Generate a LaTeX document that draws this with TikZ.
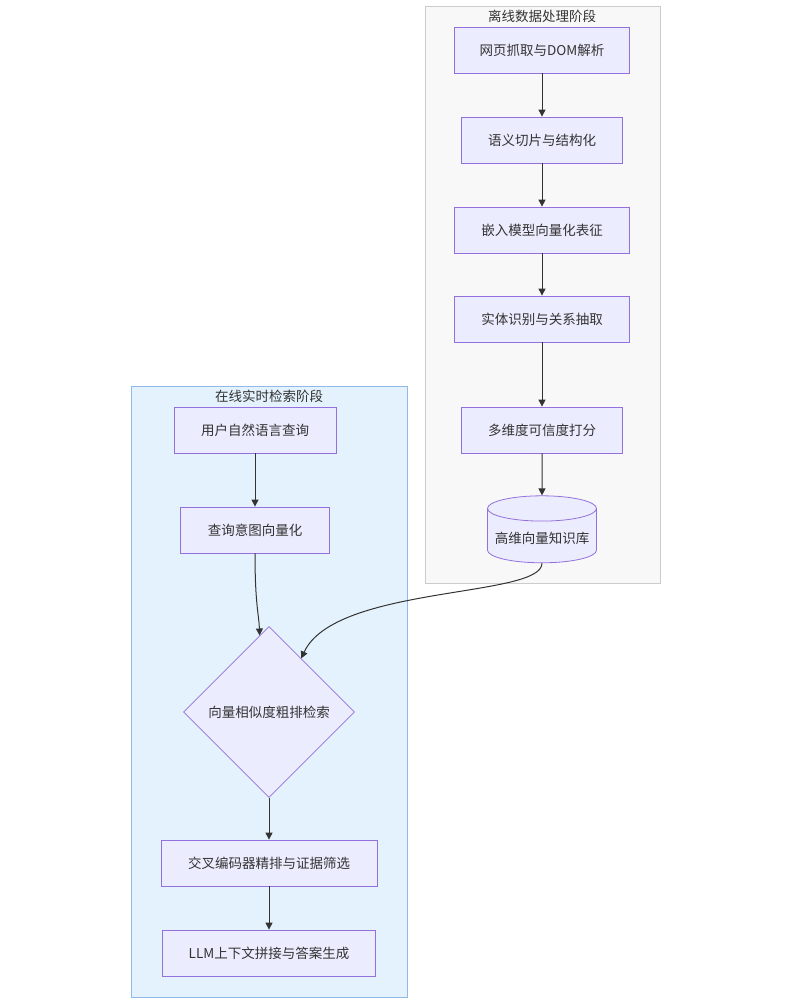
\documentclass[tikz,border=0pt]{standalone}
\usepackage{fontspec}
\setmainfont{Noto Sans CJK SC}
\usepackage{xcolor}
\usetikzlibrary{shapes.geometric, arrows.meta}

\definecolor{nodefill}{HTML}{ECECFF}
\definecolor{nodeline}{HTML}{9370DB}
\definecolor{edgegray}{HTML}{333333}
\definecolor{offfill}{HTML}{F8F8F8}
\definecolor{offline}{HTML}{CCCCCC}
\definecolor{onfill}{HTML}{E3F2FD}
\definecolor{online}{HTML}{90B8E8}

\begin{document}
\begin{tikzpicture}[x=1pt, y=-1pt,
        every node/.style={text=edgegray, font=\fontsize{13.5}{16}\selectfont},
        procbox/.style={draw=nodeline, fill=nodefill, line width=0.8pt, minimum height=46pt},
        flow/.style={draw=edgegray, line width=1pt, -{Triangle[length=7pt,width=7pt]}}]
        \useasboundingbox (0,0) rectangle (796,1003);

        % clusters
        \draw[fill=offfill, draw=offline, line width=0.8pt] (425,6) rectangle (660,583);
        \node (offtitle) at (542,16) {离线数据处理阶段};
        \draw[fill=onfill, draw=online, line width=0.8pt] (131,386) rectangle (407,997);
        \node (ontitle) at (269,396) {在线实时检索阶段};

        % offline nodes
        \node[procbox, minimum width=175pt] (crawl) at (542,50) {网页抓取与DOM解析};
        \node[procbox, minimum width=161pt] (chunk) at (542,140) {语义切片与结构化};
        \node[procbox, minimum width=175pt] (embed) at (542,230) {嵌入模型向量化表征};
        \node[procbox, minimum width=175pt] (ner) at (542,319) {实体识别与关系抽取};
        \node[procbox, minimum width=161pt] (score) at (542,430) {多维度可信度打分};
        \node[cylinder, shape border rotate=90, aspect=0.25, draw=nodeline, fill=nodefill,
              line width=0.8pt, minimum width=109pt, minimum height=67pt] (kb) at (542,538) {高维向量知识库};

        % online nodes
        \node[procbox, minimum width=162pt] (query) at (255,430) {用户自然语言查询};
        \node[procbox, minimum width=149pt] (qvec) at (255,530) {查询意图向量化};
        \node[diamond, draw=nodeline, fill=nodefill, line width=0.8pt, inner sep=0pt, aspect=1,
              minimum width=171pt, minimum height=171pt] (recall) at (269,712) {向量相似度粗排检索};
        \node[procbox, minimum width=216pt] (rerank) at (269,863) {交叉编码器精排与证据筛选};
        \node[procbox, minimum width=213pt] (gen) at (269,953) {LLM上下文拼接与答案生成};

        % offline chain
        \draw[flow] (crawl) -- (chunk);
        \draw[flow] (chunk) -- (embed);
        \draw[flow] (embed) -- (ner);
        \draw[flow] (ner) -- (score);
        \draw[flow] (score) -- (kb);

        % online chain
        \draw[flow] (query) -- (qvec);
        \draw[flow] (qvec.south) .. controls (255,605) and (259,615) .. (recall.97);
        \draw[flow] (recall) -- (rerank);
        \draw[flow] (rerank) -- (gen);

        % kb -> recall
        \draw[flow] (kb.south) .. controls (542,598) and (335,585) .. (recall.59);
\end{tikzpicture}
\end{document}
